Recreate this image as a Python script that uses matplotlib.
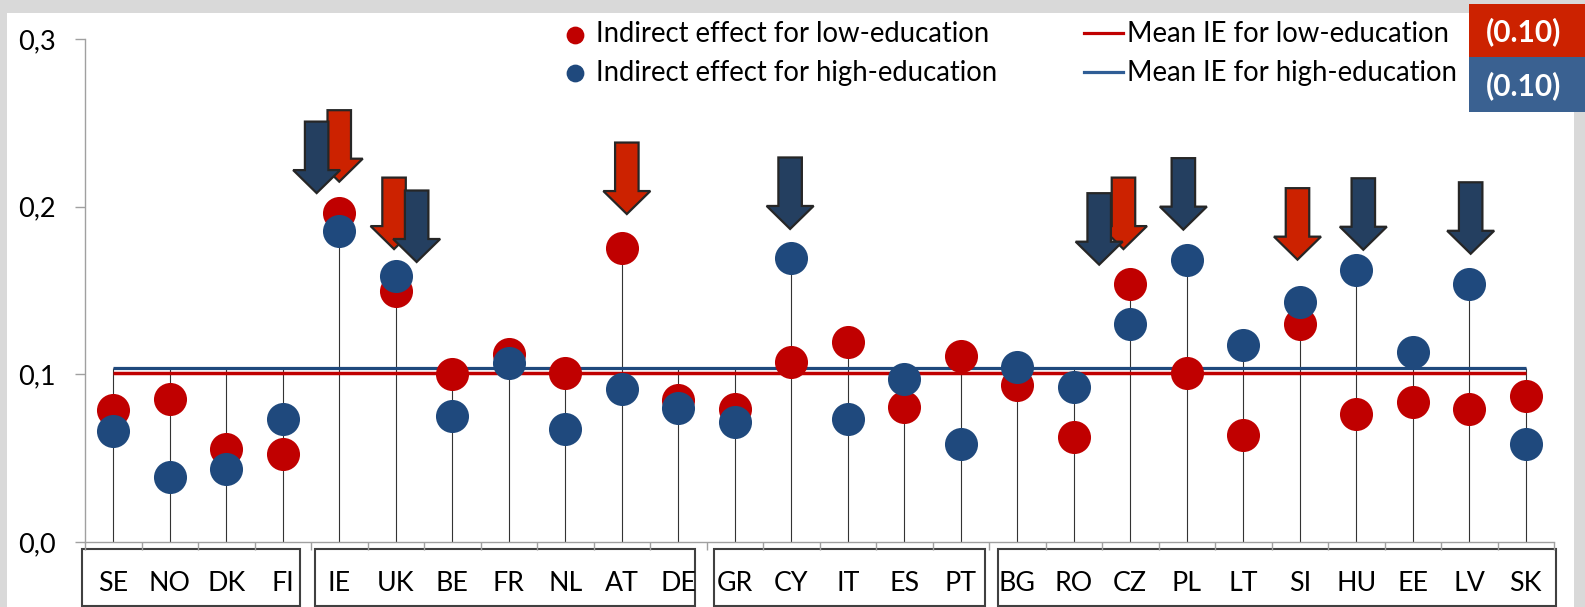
import matplotlib
matplotlib.use("Agg")
import matplotlib.pyplot as plt
from matplotlib.patches import Rectangle, Polygon
from matplotlib.lines import Line2D
from matplotlib.transforms import blended_transform_factory

plt.rcParams["font.family"] = ["Lato", "DejaVu Sans"]

# ---- data -------------------------------------------------------------
countries = ["SE", "NO", "DK", "FI", "IE", "UK", "BE", "FR", "NL", "AT", "DE",
             "GR", "CY", "IT", "ES", "PT", "BG", "RO", "CZ", "PL", "LT", "SI",
             "HU", "EE", "LV", "SK"]
ie_low = [0.079, 0.085, 0.0554, 0.0524, 0.196, 0.1496, 0.1001, 0.1122, 0.1007,
          0.1755, 0.0844, 0.0796, 0.1073, 0.1194, 0.0808, 0.111, 0.0934, 0.0627,
          0.154, 0.1007, 0.0639, 0.1303, 0.0765, 0.0834, 0.0792, 0.0873]
ie_high = [0.066, 0.039, 0.0433, 0.0735, 0.1853, 0.1587, 0.0753, 0.1067, 0.0675,
           0.091, 0.0802, 0.0717, 0.1696, 0.0735, 0.0971, 0.0584, 0.1043, 0.0922,
           0.1303, 0.168, 0.1176, 0.143, 0.1624, 0.1136, 0.154, 0.0583]
mean_low = 0.1005
mean_high = 0.1037
mean_labels = ["(0.10)", "(0.10)"]

# regional groupings shown as boxes under the axis
group_edges = [(-0.553, 3.305), (3.57, 10.30), (10.63, 15.43), (15.66, 25.54)]

# highlighted countries: (index, x shift, arrow tip value)
arrows_low = [(4, 0.00, 0.2149), (5, -0.03, 0.1747), (9, 0.09, 0.1956),
              (18, -0.12, 0.1747), (21, -0.04, 0.1684)]
arrows_high = [(4, -0.40, 0.2081), (5, 0.37, 0.1670), (12, -0.02, 0.1867),
               (18, -0.55, 0.1654), (19, -0.06, 0.1863), (22, 0.125, 0.1743),
               (24, 0.025, 0.1719)]

yticks = [0.0, 0.1, 0.2, 0.3]
ytick_labels = ["0,0", "0,1", "0,2", "0,3"]

# ---- styling ------------------------------------------------------------
RED = "#c00000"
BLUE = "#1f497d"
ARROW_RED = "#cc2200"
ARROW_NAVY = "#243f60"
BOX_RED = "#cc2200"
BOX_BLUE = "#3a6191"
GREY = "#a0a0a0"

W, H = 1585, 607
fig = plt.figure(figsize=(W / 100, H / 100), dpi=100, facecolor="#d9d9d9")

def fx(px):
    return px / W

def fy(py):
    return 1 - py / H

# white panel
fig.patches.append(Rectangle((fx(7), 0), fx(1574) - fx(7), fy(13), transform=fig.transFigure,
                             facecolor="white", edgecolor="none", zorder=-10))

ax = fig.add_axes([fx(85), fy(542), fx(1554) - fx(85), fy(39) - fy(542)])
ax.set_facecolor("none")
n = len(countries)
x = list(range(n))
ax.set_xlim(-0.5, n - 0.5)
ax.set_ylim(0, 0.3)

for s in ["top", "right"]:
    ax.spines[s].set_visible(False)
for s in ["left", "bottom"]:
    ax.spines[s].set_color(GREY)
    ax.spines[s].set_linewidth(1.0)

ax.set_yticks(yticks)
ax.set_yticklabels(ytick_labels)
ax.tick_params(axis="y", length=7.2, width=1.0, color=GREY, labelsize=19.5, pad=13.9)

ax.set_xticks([i - 0.5 for i in range(n + 1)])
ax.set_xticklabels([])
ax.tick_params(axis="x", which="major", direction="out", length=5.8, width=1.0, color=GREY)
ax.set_xticks(x, minor=True)
ax.set_xticklabels(countries, minor=True)
ax.tick_params(axis="x", which="minor", length=0, labelsize=19.3, pad=21.0)

# drop lines from each country's highest value down to the axis
for i in x:
    top = max(ie_low[i], ie_high[i], mean_high)
    ax.plot([i, i], [0, top], color="#333333", lw=0.8, zorder=1, solid_capstyle="butt")

# mean lines
ax.plot([0, n - 1], [mean_high, mean_high], color=BLUE, lw=2.3, zorder=2, solid_capstyle="butt")
ax.plot([0, n - 1], [mean_low, mean_low], color=RED, lw=2.5, zorder=2, solid_capstyle="butt")

# indirect effects
ax.plot(x, ie_low, "o", ms=23.8, color=RED, mew=0, zorder=3)
ax.plot(x, ie_high, "o", ms=23.8, color=BLUE, mew=0, zorder=4)

# block arrows
sx = (fig.get_figwidth() * 100 * ax.get_position().width) / n
sy = (fig.get_figheight() * 100 * ax.get_position().height) / 0.3
shaft_hw, head_hw, head_len, total_len = 11.75, 23.5, 23.0, 71.5

def block_arrow(xc, ytip, color, z):
    sw = shaft_hw / sx
    hw = head_hw / sx
    yh = ytip + head_len / sy
    yt = ytip + total_len / sy
    pts = [(xc - sw, yt), (xc + sw, yt), (xc + sw, yh), (xc + hw, yh),
           (xc, ytip), (xc - hw, yh), (xc - sw, yh)]
    ax.add_patch(Polygon(pts, closed=True, facecolor=color, edgecolor="#262626",
                         lw=1.6, joinstyle="miter", clip_on=False, zorder=z))

for i, dx, tip in arrows_low:
    block_arrow(i + dx, tip, ARROW_RED, 5)
for i, dx, tip in arrows_high:
    block_arrow(i + dx, tip, ARROW_NAVY, 6)

# group boxes around the country labels
btr = blended_transform_factory(ax.transData, fig.transFigure)
for (x0, x1) in group_edges:
    ax.add_patch(Rectangle((x0, fy(606)), x1 - x0, fy(549) - fy(606), transform=btr,
                           facecolor="none", edgecolor="#404040", lw=1.5, clip_on=False))

# legend
LEG_FS = 19.8
fig.add_artist(Line2D([fx(574.5)], [fy(34.5)], marker="o", ms=12.8, color=RED, mew=0))
fig.add_artist(Line2D([fx(574.5)], [fy(73)], marker="o", ms=12.8, color=BLUE, mew=0))
fig.text(fx(596), fy(42), "Indirect effect for low-education", fontsize=LEG_FS, va="baseline", ha="left")
fig.text(fx(596), fy(81), "Indirect effect for high-education", fontsize=LEG_FS, va="baseline", ha="left")
fig.add_artist(Line2D([fx(1084), fx(1123)], [fy(33), fy(33)], color=RED, lw=2.3))
fig.add_artist(Line2D([fx(1084), fx(1123)], [fy(72), fy(72)], color="#2f5d95", lw=2.3))
fig.text(fx(1127), fy(42.5), "Mean IE for low-education", fontsize=LEG_FS, va="baseline", ha="left")
fig.text(fx(1127), fy(81), "Mean IE for high-education", fontsize=LEG_FS, va="baseline", ha="left")

# mean values boxes
fig.patches.append(Rectangle((fx(1469), fy(57)), fx(1585) - fx(1469), fy(4) - fy(57),
                             transform=fig.transFigure, facecolor=BOX_RED, edgecolor="none", zorder=5))
fig.patches.append(Rectangle((fx(1469), fy(112)), fx(1585) - fx(1469), fy(57) - fy(112),
                             transform=fig.transFigure, facecolor=BOX_BLUE, edgecolor="none", zorder=5))
fig.text(fx(1524), fy(41), mean_labels[0], color="white", fontsize=21.5, fontweight="bold",
         ha="center", va="baseline", zorder=6)
fig.text(fx(1524), fy(95), mean_labels[1], color="white", fontsize=21.5, fontweight="bold",
         ha="center", va="baseline", zorder=6)

fig.savefig("out.png", dpi=100, facecolor=fig.get_facecolor())
